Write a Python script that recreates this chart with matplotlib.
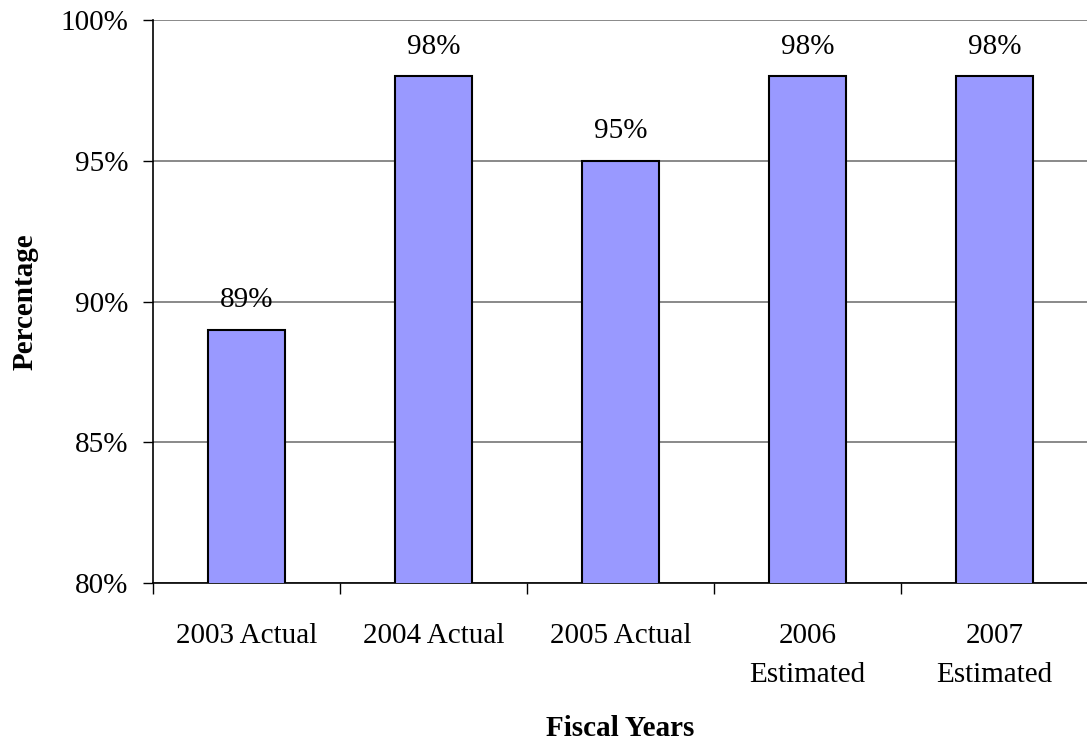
import matplotlib
matplotlib.use("Agg")
import matplotlib.pyplot as plt
import numpy as np

categories = ["2003 Actual", "2004 Actual", "2005 Actual", "2006\nEstimated", "2007\nEstimated"]
values = [89, 98, 95, 98, 98]
value_labels = ["89%", "98%", "95%", "98%", "98%"]
yticks = [80, 85, 90, 95, 100]
ytick_labels = ["80%", "85%", "90%", "95%", "100%"]

plt.rcParams['font.family'] = ['Liberation Serif', 'DejaVu Serif']

fig = plt.figure(figsize=(10.87, 7.46), dpi=100)
ax = fig.add_axes([153/1087, (746-583)/746, 935/1087, 563/746])

x = np.arange(len(categories))
ax.bar(x, values, width=0.41, color="#9999FF", edgecolor="black", linewidth=1.5, zorder=3)
ax.set_ylim(80, 100)
ax.set_xlim(-0.5, len(categories) - 0.5)

for xi, v, lab in zip(x, values, value_labels):
    ax.annotate(lab, (xi, v), xytext=(0, 12), textcoords="offset points",
                ha="center", va="bottom", fontsize=21)

ax.set_yticks(yticks)
ax.set_yticklabels(ytick_labels, fontsize=21)
ax.yaxis.grid(True, color="#808080", linewidth=1.3, zorder=0)
ax.set_axisbelow(True)

ax.set_xticks(x)
ax.set_xticklabels(categories, fontsize=21, linespacing=1.65)
ax.tick_params(axis="x", which="major", length=0, pad=28.5)
ax.set_xticks(np.arange(-0.5, len(categories), 1.0), minor=True)
ax.tick_params(axis="x", which="minor", length=8, width=1, color="black", direction="out")
ax.tick_params(axis="y", length=7.5, width=1, direction="out", pad=10)

for s in ["top", "right"]:
    ax.spines[s].set_visible(False)
ax.spines["left"].set_linewidth(1.2)
ax.spines["bottom"].set_linewidth(1.2)

ax.set_xlabel("Fiscal Years", fontsize=21, fontweight="bold", labelpad=20)
ax.set_ylabel("Percentage", fontsize=21, fontweight="bold", labelpad=16)

fig.savefig("out.png", dpi=100)
